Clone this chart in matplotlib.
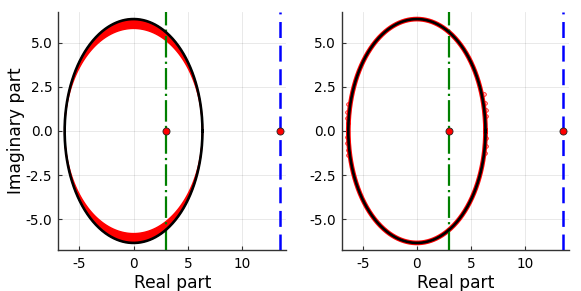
import numpy as np
import matplotlib
matplotlib.use("Agg")
import matplotlib.pyplot as plt

plt.rcParams['font.family'] = ['DejaVu Sans']
plt.rcParams['lines.scale_dashes'] = False

# ---- data ----
radius = 6.33              # radius of the black eigenvalue circle
inner_imag_radius = 5.8    # inner edge (imag. direction) of the red cloud, left panel
green_x = 3.0              # dash-dot line / red dot
blue_x = 13.45             # dashed line / red dot
pole_x = [green_x, blue_x]
pole_y = [0.0, 0.0]
# scattered red markers that stick out of the curve in the right panel
outlier_x = [-6.40, -6.45, -6.45, -6.40, -6.45, -6.45, -6.40, -6.35,
             6.20, 6.30, 6.35, 6.35, 6.40, 6.35, 6.30]
outlier_y = [1.55, 1.10, 0.75, 0.45, -0.35, -0.70, -1.05, -1.35,
             2.10, 1.60, 1.20, 0.85, -0.40, -0.85, -1.25]
xticks = [-5, 0, 5, 10]
xticklabels = ['-5', '0', '5', '10']
yticks = [-5.0, -2.5, 0.0, 2.5, 5.0]
yticklabels = ['-5.0', '-2.5', '0.0', '2.5', '5.0']
xlim = (-6.94, 14.04)
ylim = (-6.73, 6.73)

W, H = 581, 291
fig = plt.figure(figsize=(W / 100, H / 100), dpi=100)

def px_axes(x0, x1, ytop, ybot):
    return fig.add_axes([x0 / W, 1 - ybot / H, (x1 - x0) / W, (ybot - ytop) / H])

ax1 = px_axes(58, 286.4, 12, 250)
ax2 = px_axes(341.7, 569, 12, 250)

t = np.linspace(0, 2 * np.pi, 721)
cx = radius * np.cos(t)
cy = radius * np.sin(t)

def style(ax, ylabel=None):
    ax.set_xlim(*xlim)
    ax.set_ylim(*ylim)
    ax.set_xticks(xticks)
    ax.set_xticklabels(xticklabels)
    ax.set_yticks(yticks)
    ax.set_yticklabels(yticklabels)
    ax.grid(True, color='#000000', alpha=0.1, linewidth=0.6)
    ax.set_axisbelow(True)
    for s in ['top', 'right']:
        ax.spines[s].set_visible(False)
    for s in ['left', 'bottom']:
        ax.spines[s].set_color('#333333')
        ax.spines[s].set_linewidth(1.0)
    ax.tick_params(direction='in', length=3, width=0.8, color='#333333',
                   labelsize=9.8, pad=4)
    ax.tick_params(axis='x', pad=5)
    ax.set_xlabel('Real part', fontsize=12.3, labelpad=2.5)
    if ylabel:
        ax.set_ylabel(ylabel, fontsize=12.3, labelpad=0.5)

def vlines(ax):
    g, = ax.plot([green_x, green_x], [ylim[0], ylim[1]], color='#008000', lw=1.6, zorder=3)
    g.set_dashes([15.5, 3.0, 1.6, 3.0])
    g.set_dash_capstyle('butt')
    b, = ax.plot([blue_x, blue_x], [ylim[0], ylim[1]], color='#0000ff', lw=1.8, zorder=3)
    b.set_dashes([11.5, 5.5])
    ax.scatter(pole_x, pole_y, s=26, color='#ff0000', edgecolor='#222222',
               linewidth=0.6, zorder=5)

# Left panel: red cloud inside the circle
band_x = np.concatenate([cx, cx[::-1]])
band_y = np.concatenate([cy, (inner_imag_radius * np.sin(t))[::-1]])
ax1.fill(band_x, band_y, color='#ff0000', lw=1.0, ec='#ff0000', zorder=2)
ax1.plot(cx, cy, color='black', lw=1.9, zorder=4)
vlines(ax1)
style(ax1, 'Imaginary part')

# Right panel: red markers along the circle
ax2.plot(cx, cy, color='#ff0000', lw=3.4, zorder=2)
ax2.scatter(outlier_x, outlier_y, s=7, facecolor=(1, 0, 0, 0.25), edgecolor='#ff0000',
            linewidth=0.5, zorder=2)
ax2.plot(cx, cy, color='black', lw=1.9, zorder=4)
vlines(ax2)
style(ax2)

fig.savefig('out.png', dpi=100)
